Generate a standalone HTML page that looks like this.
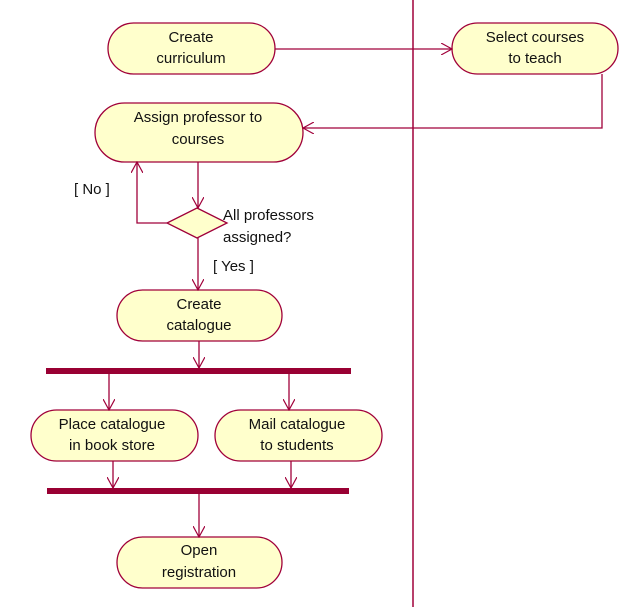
<!DOCTYPE html>
<html><head><meta charset="utf-8"><style>
html,body{margin:0;padding:0;background:#fff;}
svg{display:block;}
text{font-family:"Liberation Sans",sans-serif;font-size:15px;fill:#111;}
</style></head><body>
<svg width="635" height="607" viewBox="0 0 635 607" xmlns="http://www.w3.org/2000/svg">
<defs>
<marker id="a" viewBox="0 0 12 12" refX="11" refY="6" markerWidth="12" markerHeight="12" markerUnits="userSpaceOnUse" orient="auto">
<path d="M0,0 L11,6 L0,12" fill="none" stroke="#a0003a" stroke-width="1.2"/>
</marker>
</defs>
<g fill="#ffffcc" stroke="#a0003a" stroke-width="1.3">
<rect x="108" y="23" width="167" height="51" rx="25.5"/>
<rect x="452" y="23" width="166" height="51" rx="25.5"/>
<rect x="95" y="103" width="208" height="59" rx="29.5"/>
<polygon points="197,208 227,223 197,238 167,223"/>
<rect x="117" y="290" width="165" height="51" rx="25.5"/>
<rect x="31" y="410" width="167" height="51" rx="25.5"/>
<rect x="215" y="410" width="167" height="51" rx="25.5"/>
<rect x="117" y="537" width="165" height="51" rx="25.5"/>
</g>
<line x1="413" y1="0" x2="413" y2="607" stroke="#a0003a" stroke-width="1.5"/>
<g stroke="#a0003a" stroke-width="1.3" fill="none">
<path d="M275,49 H452" marker-end="url(#a)"/>
<path d="M602,74 V128 H303" marker-end="url(#a)"/>
<path d="M198,162 V208" marker-end="url(#a)"/>
<path d="M167,223 H137 V162" marker-end="url(#a)"/>
<path d="M198,238 V290" marker-end="url(#a)"/>
<path d="M199,341 V368" marker-end="url(#a)"/>
<path d="M109,373 V410" marker-end="url(#a)"/>
<path d="M289,373 V410" marker-end="url(#a)"/>
<path d="M113,461 V488" marker-end="url(#a)"/>
<path d="M291,461 V488" marker-end="url(#a)"/>
<path d="M199,494 V537" marker-end="url(#a)"/>
</g>
<rect x="46" y="368" width="305" height="6" fill="#990033"/>
<rect x="47" y="488" width="302" height="6" fill="#990033"/>
<g text-anchor="middle">
<text x="191" y="42">Create</text><text x="191" y="63">curriculum</text>
<text x="535" y="42">Select courses</text><text x="535" y="63">to teach</text>
<text x="198" y="122">Assign professor to</text><text x="198" y="144">courses</text>
<text x="199" y="309">Create</text><text x="199" y="330">catalogue</text>
<text x="112" y="429">Place catalogue</text><text x="112" y="450">in book store</text>
<text x="297" y="429">Mail catalogue</text><text x="297" y="450">to students</text>
<text x="199" y="555">Open</text><text x="199" y="577">registration</text>
</g>
<text x="223" y="220">All professors</text>
<text x="223" y="242">assigned?</text>
<text x="74" y="194">[ No ]</text>
<text x="213" y="271">[ Yes ]</text>
</svg>
</body></html>
